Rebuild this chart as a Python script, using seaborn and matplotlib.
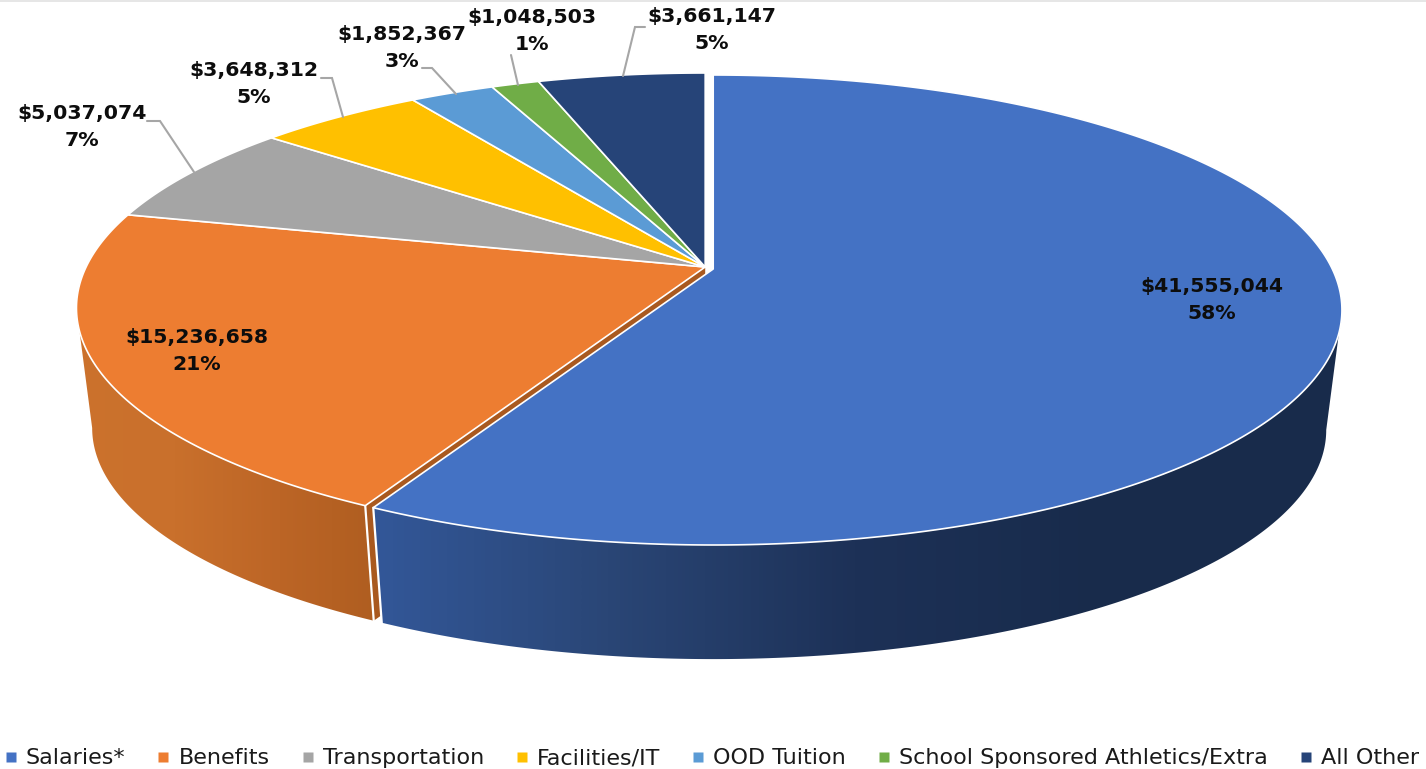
import numpy as np
import matplotlib
matplotlib.use("Agg")
import matplotlib.pyplot as plt
from matplotlib.colors import LinearSegmentedColormap
from matplotlib.lines import Line2D
from matplotlib.patches import Polygon
import seaborn as sns

# Expenditure categories and amounts
categories = ["Salaries*", "Benefits", "Transportation", "Facilities/IT",
              "OOD Tuition", "School Sponsored Athletics/Extra", "All Other"]
amounts = [41555044, 15236658, 5037074, 3648312, 1852367, 1048503, 3661147]
slice_colors = ["#4472C4", "#ED7D31", "#A5A5A5", "#FFC000",
                "#5B9BD5", "#70AD47", "#264478"]

sns.set_theme(style="white")
palette = sns.color_palette(slice_colors)

fig = plt.figure(figsize=(14.26, 7.69), dpi=100)
ax = fig.add_axes([0, 0, 1, 1])
ax.set_xlim(0, 1426)
ax.set_ylim(769, 0)
ax.axis("off")
ax.axhspan(0, 1.5, color="#E6E6E6", lw=0)

# Perspective disc: a circle seen from above, nearer edge drawn larger
CX, CY = 709.7, 268.0
UP, DOWN = 194.0, 276.0
K = (DOWN - UP) / (DOWN + UP)
RY = UP * (1 + K)
RX = 628.75 * np.sqrt(1 - K ** 2)
# Lower rim of the disc
BASE_SCALE = 0.975
BASE_DY = 121.0


def rim(theta_deg, scale=1.0, dy=0.0, off=(0.0, 0.0)):
    t = np.radians(theta_deg)
    w = 1 + K * np.cos(t)
    return (CX + off[0] + scale * RX * np.sin(t) / w,
            CY + off[1] + dy - scale * RY * np.cos(t) / w)


def arc(a, b):
    return np.linspace(a, b, max(int(abs(b - a) * 2), 2) + 1)


def wall(a, b, off, stops, x0, x1):
    """Side wall between two angles, filled with a left-to-right gradient."""
    ts = arc(a, b)
    tx, ty = rim(ts, off=off)
    bx, by = rim(ts[::-1], BASE_SCALE, BASE_DY, off)
    pts = np.column_stack([np.r_[tx, bx], np.r_[ty, by]])
    poly = Polygon(pts, closed=True, fc="none", ec="none")
    ax.add_patch(poly)
    cmap = LinearSegmentedColormap.from_list("wall", stops)
    im = ax.imshow(np.linspace(0, 1, 256)[None, :], cmap=cmap, aspect="auto",
                   extent=(x0, x1, 700, 250), zorder=1, interpolation="bilinear")
    im.set_clip_path(poly)
    ax.set_xlim(0, 1426)
    ax.set_ylim(769, 0)


total = sum(amounts)
edges = np.r_[0, np.cumsum(amounts)] / total * 360
OFF_MAIN = (3.5, 1.0)
OFF_REST = (-4.5, -1.0)
offsets = [OFF_MAIN] + [OFF_REST] * (len(amounts) - 1)

# Cut face of the second slice, visible through the gap between slices
a = edges[1]
x_top, y_top = rim(a, off=OFF_REST)
x_low, y_low = rim(a, BASE_SCALE, BASE_DY, OFF_REST)
ax.add_patch(Polygon([(CX + OFF_REST[0], CY + OFF_REST[1]), (x_top, y_top),
                      (x_low, y_low),
                      (CX + OFF_REST[0], CY + OFF_REST[1] + BASE_DY)],
                     closed=True, fc="#A9591F", ec="none", zorder=0.5))

# Visible side walls run up to the widest point of the rim
right_limit = np.degrees(np.arccos(-K))
left_limit = 360 - right_limit
wall(right_limit, edges[1], OFF_MAIN,
     ["#33589A", "#2A4676", "#1D3157", "#182B4B", "#182B4B"], 360, 1350)
wall(edges[1], left_limit, OFF_REST,
     ["#CC722D", "#C9702C", "#BC6526", "#AE5D20"], 70, 385)

# White seams along the cut edge of each wall
ax.plot([x_top, x_low], [y_top, y_low], color="white", lw=1.6, zorder=2)
x2, y2 = rim(a, off=OFF_MAIN)
x3, y3 = rim(a, BASE_SCALE, BASE_DY, OFF_MAIN)
ax.plot([x2, x3], [y2, y3], color="white", lw=1.6, zorder=2)

# Top faces of the slices
for i, color in enumerate(palette):
    off = offsets[i]
    xs, ys = rim(arc(edges[i], edges[i + 1]), off=off)
    pts = np.column_stack([np.r_[CX + off[0], xs], np.r_[CY + off[1], ys]])
    ax.add_patch(Polygon(pts, closed=True, fc=color, ec="white", lw=1.2,
                         joinstyle="round", zorder=3))

# Value labels
label_centres = [(1212, 300), (197, 351), (82, 127), (254, 84),
                 (402, 48), (532, 31), (712, 30)]
for value, (lx, ly) in zip(amounts, label_centres):
    ax.text(lx, ly, f"${value:,}\n{round(value / total * 100)}%",
            ha="center", va="center", fontsize=14.7, fontweight="bold",
            family="DejaVu Sans", color="#0D0D0D", linespacing=1.47, zorder=5)

# Leader lines for the small slices
leaders = [[(147, 121), (160, 121), (194, 172)],
           [(321, 78), (332, 78), (343, 117)],
           [(422, 68), (432, 68), (456, 94)],
           [(511, 55), (518, 85)],
           [(645, 27), (635, 27), (623, 76)]]
for path in leaders:
    px, py = zip(*path)
    ax.plot(px, py, color="#A6A6A6", lw=1.5, zorder=4, solid_joinstyle="miter")

# Legend along the bottom edge
handles = [Line2D([], [], linestyle="none", marker="s", markersize=6.8,
                  markerfacecolor=c, markeredgecolor="none", label=n)
           for c, n in zip(palette, categories)]
ax.legend(handles=handles, loc="center", bbox_to_anchor=(712.5 / 1426, 1 - 758.5 / 769),
          ncol=len(handles), frameon=False,
          prop={"family": "DejaVu Sans", "size": 16},
          handlelength=0.45, handletextpad=0.45, columnspacing=1.49,
          borderpad=0, borderaxespad=0, labelcolor="#1A1A1A")

fig.savefig("out.png", dpi=100, facecolor="white")
